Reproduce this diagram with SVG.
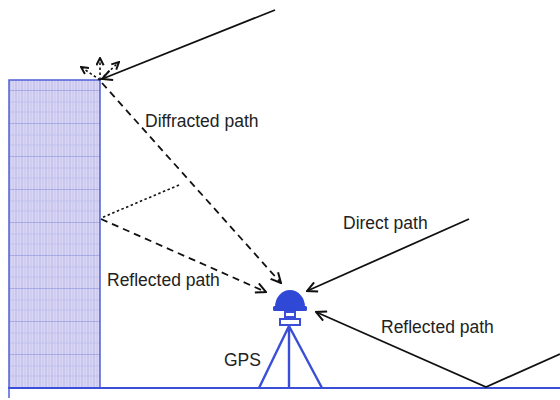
<svg xmlns="http://www.w3.org/2000/svg" width="560" height="400" viewBox="0 0 560 400">
  <style>
    .lbl { font-family: "Liberation Sans", Arial, sans-serif; font-size: 17.5px; fill: #222; }
    .ray { fill: none; stroke: #111; stroke-width: 1.8; }
    .dash { stroke-dasharray: 7 5; }
    .dot { stroke-dasharray: 2.5 2.5; stroke-width: 1.6; }
    .blue { stroke: #3a4ed8; fill: none; stroke-width: 2.4; }
  </style>
  <defs>
    <marker id="arr" viewBox="0 0 12 12" refX="11" refY="6" markerWidth="12" markerHeight="12" markerUnits="userSpaceOnUse" orient="auto">
      <path d="M1,1 L11,6 L1,11" fill="none" stroke="#111" stroke-width="2"/>
    </marker>
    <marker id="arrs" viewBox="0 0 10 10" refX="9" refY="5" markerWidth="9" markerHeight="9" markerUnits="userSpaceOnUse" orient="auto">
      <path d="M1,1 L9,5 L1,9" fill="none" stroke="#111" stroke-width="2.2"/>
    </marker>
    <pattern id="wall" width="6" height="33" patternUnits="userSpaceOnUse" x="9" y="90">
      <rect width="6" height="33" fill="#d8d6f4"/>
      <line x1="1" y1="0" x2="1" y2="33" stroke="#b4b8ea" stroke-width="1"/>
      <line x1="4" y1="0" x2="4" y2="33" stroke="#cabfe8" stroke-width="0.8"/>
      <line x1="0" y1="0" x2="6" y2="0" stroke="#8e96dc" stroke-width="1.2"/>
      <line x1="0" y1="12" x2="6" y2="12" stroke="#c0c2ee" stroke-width="1"/>
      <line x1="0" y1="22" x2="6" y2="22" stroke="#c0c2ee" stroke-width="1"/>
    </pattern>
  </defs>

  <!-- building -->
  <g id="building">
    <rect x="9" y="80" width="91" height="308" fill="url(#wall)" stroke="#4f5fd6" stroke-width="1.5"/>
  </g>

  <!-- ground -->
  <g id="ground">
    <line x1="8" y1="388" x2="560" y2="388" stroke="#3a4ed8" stroke-width="2"/>
    <line x1="9" y1="388" x2="9" y2="398" stroke="#4f5fd6" stroke-width="1.5"/>
  </g>

  <!-- GPS receiver on tripod -->
  <g id="gps">
    <path d="M275,307 A15,17 0 0 1 305,307 Z" fill="#2f48d6"/>
    <rect x="273" y="306" width="34" height="5" rx="1.5" fill="#2f48d6"/>
    <rect x="285" y="312" width="10" height="5" fill="none" stroke="#3a4ed8" stroke-width="2"/>
    <rect x="280" y="319" width="20" height="6" fill="none" stroke="#3a4ed8" stroke-width="2"/>
    <path class="blue" d="M289,326 L259,388 M289,326 L289,388 M289,326 L322,388"/>
  </g>

  <!-- signal paths -->
  <g id="connectors">
    <!-- diffraction at roof edge -->
    <line class="ray" x1="275" y1="10" x2="102" y2="79" marker-end="url(#arr)"/>
    <line class="ray dot" x1="100" y1="80" x2="81" y2="67" marker-end="url(#arrs)"/>
    <line class="ray dot" x1="100" y1="80" x2="100" y2="58" marker-end="url(#arrs)"/>
    <line class="ray dot" x1="100" y1="80" x2="119" y2="62" marker-end="url(#arrs)"/>
    <line class="ray dash" x1="102" y1="83" x2="281" y2="283" marker-end="url(#arr)"/>
    <!-- wall reflection -->
    <line class="ray dot" x1="179" y1="185" x2="101" y2="218"/>
    <line class="ray dash" x1="101" y1="219" x2="266" y2="292" marker-end="url(#arr)"/>
    <!-- direct -->
    <line class="ray" x1="469" y1="219" x2="307" y2="291" marker-end="url(#arr)"/>
    <!-- ground reflection -->
    <polyline class="ray" points="560,354 486,387 316,312" marker-end="url(#arr)"/>
  </g>

  <!-- labels -->
  <g id="labels">
    <text class="lbl" x="145" y="127">Diffracted path</text>
    <text class="lbl" x="343" y="229">Direct path</text>
    <text class="lbl" x="107" y="286">Reflected path</text>
    <text class="lbl" x="381" y="333">Reflected path</text>
    <text class="lbl" x="224" y="366">GPS</text>
  </g>
</svg>
